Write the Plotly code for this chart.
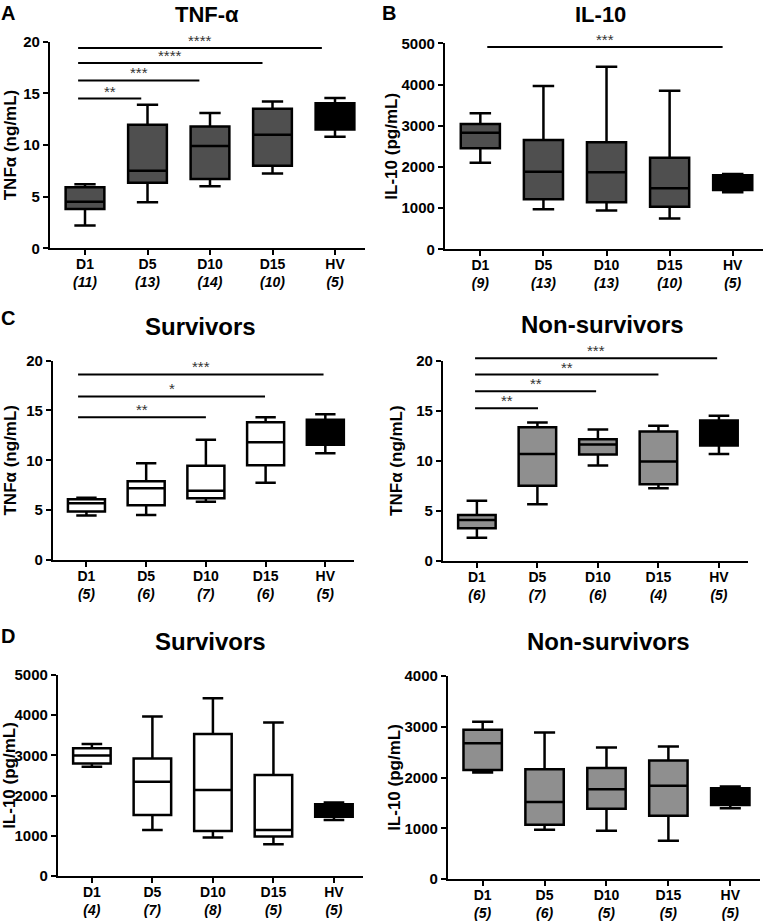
import plotly.graph_objects as go

W, H = 767, 923

cats = ["D1", "D5", "D10", "D15", "HV"]

# Panel A - TNF-alpha, all patients (ng/mL)
a_n = [11, 13, 14, 10, 5]
a_low = [2.2, 4.45, 6.0, 7.25, 10.8]
a_q1 = [3.8, 6.35, 6.7, 8.0, 11.5]
a_med = [4.5, 7.5, 9.9, 11.0, 12.6]
a_q3 = [5.9, 11.95, 11.8, 13.5, 14.05]
a_high = [6.2, 13.9, 13.1, 14.2, 14.55]
a_sig_start = [-0.11, -0.11, -0.11, -0.11]
a_sig_end = [0.9, 1.83, 2.84, 3.79]
a_sig_y = [14.5, 16.25, 17.95, 19.4]
a_sig_lbl = ["**", "***", "****", "****"]

# Panel B - IL-10, all patients (pg/mL)
b_n = [9, 13, 13, 10, 5]
b_low = [2100, 970, 940, 750, 1385]
b_q1 = [2450, 1215, 1140, 1035, 1440]
b_med = [2830, 1885, 1870, 1480, 1610]
b_q3 = [3040, 2655, 2600, 2225, 1800]
b_high = [3300, 3965, 4430, 3850, 1830]
b_sig_start = [0.11]
b_sig_end = [3.84]
b_sig_y = [4910]
b_sig_lbl = ["***"]

# Panel C left - TNF-alpha, survivors
cs_n = [5, 6, 7, 6, 5]
cs_low = [4.45, 4.5, 5.85, 7.75, 10.7]
cs_q1 = [4.85, 5.5, 6.2, 9.5, 11.55]
cs_med = [5.7, 7.2, 6.95, 11.8, 12.6]
cs_q3 = [6.1, 7.9, 9.45, 13.8, 14.05]
cs_high = [6.25, 9.7, 12.05, 14.3, 14.6]
cs_sig_start = [-0.14, -0.14, -0.14]
cs_sig_end = [2.0, 2.99, 3.97]
cs_sig_y = [14.3, 16.4, 18.6]
cs_sig_lbl = ["**", "*", "***"]

# Panel C right - TNF-alpha, non-survivors
cn_n = [6, 7, 6, 4, 5]
cn_low = [2.3, 5.63, 9.5, 7.23, 10.67]
cn_q1 = [3.23, 7.5, 10.6, 7.63, 11.5]
cn_med = [4.07, 10.67, 11.6, 9.9, 12.6]
cn_q3 = [4.57, 13.33, 12.13, 12.9, 14.0]
cn_high = [6.0, 13.8, 13.1, 13.47, 14.47]
cn_sig_start = [-0.03, -0.03, -0.03, -0.03]
cn_sig_end = [1.01, 1.97, 3.0, 3.97]
cn_sig_y = [15.23, 16.93, 18.6, 20.23]
cn_sig_lbl = ["**", "**", "**", "***"]

# Panel D left - IL-10, survivors
ds_n = [4, 7, 8, 5, 5]
ds_low = [2720, 1145, 960, 790, 1395]
ds_q1 = [2800, 1515, 1120, 980, 1475]
ds_med = [3000, 2345, 2140, 1145, 1610]
ds_q3 = [3175, 2925, 3530, 2510, 1785]
ds_high = [3285, 3965, 4420, 3820, 1830]

# Panel D right - IL-10, non-survivors
dn_n = [5, 6, 5, 5, 5]
dn_low = [2100, 970, 950, 755, 1395]
dn_q1 = [2150, 1070, 1385, 1245, 1460]
dn_med = [2675, 1515, 1770, 1835, 1610]
dn_q3 = [2940, 2165, 2185, 2335, 1790]
dn_high = [3100, 2885, 2590, 2610, 1825]

FONT = "Liberation Sans, Arial, sans-serif"
DARK = "#4f4f4f"
LIGHT = "#8f8f8f"
WHITE = "#ffffff"

panels = [
    dict(stats=(a_n, a_low, a_q1, a_med, a_q3, a_high), fill=DARK,
         sig=(a_sig_start, a_sig_end, a_sig_y, a_sig_lbl),
         px=(50, 365), py=(41.7, 248.3), ymax=20, dtick=5,
         ytitle="TNFα (ng/mL)", title="TNF-α", tsize=22, tpos=(207, 15),
         letter="A", lpos=(8, 13), standoff=2),
    dict(stats=(b_n, b_low, b_q1, b_med, b_q3, b_high), fill=DARK,
         sig=(b_sig_start, b_sig_end, b_sig_y, b_sig_lbl),
         px=(445, 763), py=(43.3, 249.3), ymax=5000, dtick=1000,
         ytitle="IL-10 (pg/mL)", title="IL-10", tsize=22, tpos=(600, 15),
         letter="B", lpos=(389, 13), standoff=0),
    dict(stats=(cs_n, cs_low, cs_q1, cs_med, cs_q3, cs_high), fill=WHITE,
         sig=(cs_sig_start, cs_sig_end, cs_sig_y, cs_sig_lbl),
         px=(53, 354), py=(360.5, 560), ymax=20, dtick=5,
         ytitle="TNFα (ng/mL)", title="Survivors", tsize=24, tpos=(201, 326),
         letter="C", lpos=(8, 318), standoff=5),
    dict(stats=(cn_n, cn_low, cn_q1, cn_med, cn_q3, cn_high), fill=LIGHT,
         sig=(cn_sig_start, cn_sig_end, cn_sig_y, cn_sig_lbl),
         px=(443, 748), py=(360.5, 560.7), ymax=20, dtick=5,
         ytitle="TNFα (ng/mL)", title="Non-survivors", tsize=24, tpos=(602, 324),
         letter=None, lpos=None, standoff=9),
    dict(stats=(ds_n, ds_low, ds_q1, ds_med, ds_q3, ds_high), fill=WHITE,
         sig=None,
         px=(58, 363), py=(675, 876), ymax=5000, dtick=1000,
         ytitle="IL-10 (pg/mL)", title="Survivors", tsize=24, tpos=(210, 641),
         letter="D", lpos=(8, 636), standoff=0),
    dict(stats=(dn_n, dn_low, dn_q1, dn_med, dn_q3, dn_high), fill=LIGHT,
         sig=None,
         px=(448, 760), py=(676, 879), ymax=4000, dtick=1000,
         ytitle="IL-10 (pg/mL)", title="Non-survivors", tsize=24, tpos=(608, 641),
         letter=None, lpos=None, standoff=0),
]

XR = [-0.56, 4.48]
BOXW = 0.62
EXT = 18  # px of extra room above the axis for significance bars

fig = go.Figure()
layout = {}
annotations = []
ext_id = 7

for i, p in enumerate(panels, start=1):
    n, low, q1, med, q3, high = p["stats"]
    xs = f"x{i}" if i > 1 else "x"
    ys = f"y{i}" if i > 1 else "y"
    xkey = f"xaxis{i}" if i > 1 else "xaxis"
    ykey = f"yaxis{i}" if i > 1 else "yaxis"
    x0, x1 = p["px"]
    ytop, ybot = p["py"]
    xdom = [x0 / W, x1 / W]
    ydom = [1 - ybot / H, 1 - ytop / H]

    pos = list(range(len(cats)))
    # D1..D15 boxes
    fig.add_trace(go.Box(
        x=pos[:4], q1=q1[:4], median=med[:4], q3=q3[:4],
        lowerfence=low[:4], upperfence=high[:4],
        width=BOXW, whiskerwidth=0.55, boxpoints=False,
        fillcolor=p["fill"], line=dict(color="black", width=2.5),
        xaxis=xs, yaxis=ys, showlegend=False, hoverinfo="skip"))
    # HV box (black)
    fig.add_trace(go.Box(
        x=pos[4:], q1=q1[4:], median=med[4:], q3=q3[4:],
        lowerfence=low[4:], upperfence=high[4:],
        width=BOXW, whiskerwidth=0.55, boxpoints=False,
        fillcolor="black", line=dict(color="black", width=2.5),
        xaxis=xs, yaxis=ys, showlegend=False, hoverinfo="skip"))

    ticktext = [f"{c}<br><i>({k})</i>" for c, k in zip(cats, n)]
    layout[xkey] = dict(
        domain=xdom, anchor=ys, range=XR, tickmode="array",
        tickvals=pos, ticktext=ticktext, showline=True, linewidth=2.2,
        linecolor="black", ticks="outside", ticklen=5, tickwidth=2,
        tickcolor="black", showgrid=False, zeroline=False, automargin=False,
        ticklabelstandoff=-3,
        tickfont=dict(family=FONT, size=14, color="black", weight="bold"),
        fixedrange=True)
    layout[ykey] = dict(
        domain=ydom, anchor=xs, range=[0, p["ymax"]], tick0=0, dtick=p["dtick"],
        tickformat="d", showline=True, linewidth=2.2, linecolor="black",
        ticks="outside", ticklen=5, tickwidth=2, tickcolor="black",
        showgrid=False, zeroline=False, automargin=False,
        tickfont=dict(family=FONT, size=15, color="black", weight="bold"),
        title=dict(text=p["ytitle"], standoff=p["standoff"],
                   font=dict(family=FONT, size=17, color="black", weight="bold")),
        fixedrange=True)

    if p["sig"] is not None:
        hpx = ybot - ytop
        ekey = f"yaxis{ext_id}"
        eref = f"y{ext_id}"
        layout[ekey] = dict(
            domain=[1 - ybot / H, 1 - (ytop - EXT) / H], anchor=xs,
            range=[0, p["ymax"] * (hpx + EXT) / hpx], visible=False,
            automargin=False, fixedrange=True)
        s0, s1, sy, sl = p["sig"]
        for a, b, yv, lbl in zip(s0, s1, sy, sl):
            fig.add_trace(go.Scatter(
                x=[a, b], y=[yv, yv], mode="lines",
                line=dict(color="black", width=2),
                xaxis=xs, yaxis=eref, showlegend=False, hoverinfo="skip"))
            annotations.append(dict(
                x=(a + b) / 2, y=yv, xref=xs, yref=eref, text=lbl,
                showarrow=False, xanchor="center", yanchor="bottom", yshift=-3,
                font=dict(family=FONT, size=15, color="#333333")))
        ext_id += 1

    tx, ty = p["tpos"]
    annotations.append(dict(
        x=tx / W, y=1 - ty / H, xref="paper", yref="paper", text=p["title"],
        showarrow=False, xanchor="center", yanchor="middle",
        font=dict(family=FONT, size=p["tsize"], color="black", weight="bold")))
    if p["letter"]:
        lx, ly = p["lpos"]
        annotations.append(dict(
            x=lx / W, y=1 - ly / H, xref="paper", yref="paper", text=p["letter"],
            showarrow=False, xanchor="center", yanchor="middle",
            font=dict(family=FONT, size=20, color="black", weight="bold")))

fig.update_layout(
    width=W, height=H, margin=dict(l=0, r=0, t=0, b=0, autoexpand=False),
    paper_bgcolor="white", plot_bgcolor="rgba(0,0,0,0)",
    showlegend=False, boxmode="overlay", annotations=annotations,
    font=dict(family=FONT, color="black"), **layout)

fig.write_html("out.html", config={"displayModeBar": False},
               post_script="document.body.style.margin='0px';document.body.style.overflow='hidden';")
